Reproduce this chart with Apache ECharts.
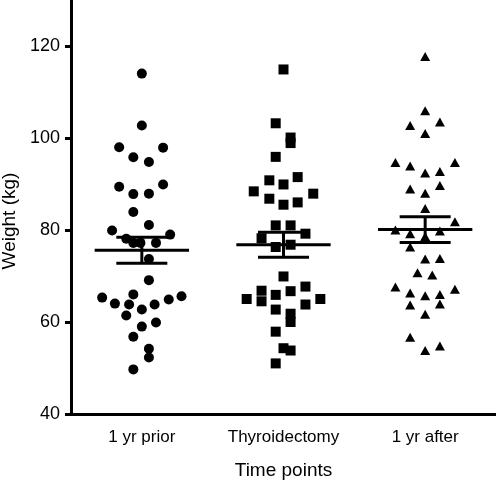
<!DOCTYPE html>
<html>
<head>
<meta charset="utf-8">
<script src="https://cdn.jsdelivr.net/npm/echarts@6/dist/echarts.min.js"></script>
<style>
html,body{margin:0;padding:0;background:#fff;}
#chart{width:496px;height:481px;}
</style>
</head>
<body>
<div id="chart"></div>
<script>
// Categories and tick labels
const categories = ['1 yr prior', 'Thyroidectomy', '1 yr after'];
const yTicks = [40, 60, 80, 100, 120];

// Series values (kg)
const priorValues = [114.0, 102.7, 98.0, 97.9, 95.8, 94.8, 89.4, 89.9, 87.8, 87.9, 83.9, 81.1, 79.9, 79.0, 78.1, 77.2, 77.2, 77.2, 73.7, 69.1, 65.3, 66.0, 65.6, 64.9, 64.0, 63.8, 63.8, 62.7, 61.4, 59.9, 59.0, 56.8, 54.2, 52.3, 49.7];
const priorJitter = [0, 0, -0.16, 0.15, -0.06, 0.05, -0.16, 0.15, -0.06, 0.05, -0.06, 0.05, -0.21, 0.20, -0.11, -0.06, -0.01, 0.10, 0.05, 0.05, -0.28, -0.06, 0.28, 0.19, -0.19, -0.09, 0.09, 0, -0.11, 0.10, 0, -0.06, 0.05, 0.05, -0.06];

const thyroValues = [114.9, 103.2, 100.1, 98.9, 95.9, 90.8, 91.5, 89.9, 88.4, 87.9, 86.8, 85.5, 86.0, 81.0, 81.0, 79.2, 78.2, 76.3, 76.8, 69.9, 65.0, 66.8, 64.5, 65.9, 66.7, 67.7, 65.0, 63.8, 62.7, 61.8, 60.0, 57.9, 54.3, 53.8, 51.0];
const thyroJitter = [0, -0.055, 0.05, 0.05, -0.055, -0.10, 0.10, 0, -0.21, 0.21, -0.10, 0, 0.10, -0.055, 0.05, 0.155, -0.155, -0.055, 0.05, 0, -0.26, -0.155, -0.155, -0.055, 0.05, 0.155, 0.26, 0.155, -0.055, 0.05, 0.05, -0.055, 0, 0.05, -0.055];

const afterValues = [117.7, 105.9, 102.7, 103.5, 101.0, 94.7, 93.9, 94.7, 92.4, 92.7, 88.9, 89.7, 88.0, 84.7, 81.8, 80.0, 79.2, 78.6, 79.8, 76.3, 73.7, 73.8, 70.7, 70.2, 67.6, 66.3, 65.7, 66.0, 67.1, 63.7, 63.9, 61.7, 56.7, 53.8, 54.8];
const afterJitter = [0, 0, -0.106, 0.104, 0, -0.21, -0.106, 0.21, 0, 0.104, -0.106, 0.104, 0, 0, 0.21, -0.21, -0.106, 0, 0.104, -0.106, 0, 0.104, -0.054, 0.05, -0.21, -0.106, 0, 0.104, 0.21, -0.106, 0.104, 0, -0.106, 0, 0.104];

// Mean and SEM per group
const means = [75.6, 76.8, 80.1];
const sems = [2.85, 2.7, 2.8];

const font = 'Liberation Sans, Arial, Helvetica, sans-serif';

function pts(values, jitter, idx) {
  return values.map((v, i) => [idx + 1 + jitter[i], v]);
}

const chart = echarts.init(document.getElementById('chart'), null, {renderer: 'canvas'});
chart.setOption({
  animation: false,
  backgroundColor: '#fff',
  grid: {left: 71, right: 0, top: 0, bottom: 67, containLabel: false, outerBoundsMode: 'none'},
  xAxis: [
    {
      type: 'category',
      data: categories,
      boundaryGap: true,
      axisLine: {lineStyle: {color: '#000', width: 3}},
      axisTick: {alignWithLabel: true, length: 6, lineStyle: {color: '#000', width: 2.5}},
      axisLabel: {interval: 0, color: '#000', fontFamily: font, fontSize: 17, margin: 15, hideOverlap: false},
      splitLine: {show: false},
      name: 'Time points',
      nameLocation: 'middle',
      nameGap: 47,
      nameTextStyle: {color: '#000', fontFamily: font, fontSize: 19}
    },
    {type: 'value', min: 0.5, max: 3.5, show: false}
  ],
  yAxis: {
    type: 'value',
    min: 40,
    max: 130,
    axisLine: {show: true, lineStyle: {color: '#000', width: 3}},
    axisTick: {show: true, customValues: yTicks, length: 6, lineStyle: {color: '#000', width: 3}},
    axisLabel: {customValues: yTicks, color: '#000', fontFamily: font, fontSize: 18, margin: 11},
    splitLine: {show: false},
    name: 'Weight (kg)',
    nameLocation: 'middle',
    nameGap: 50,
    nameTextStyle: {color: '#000', fontFamily: font, fontSize: 19, padding: [0, 28, 0, 0]}
  },
  series: [
    {type: 'scatter', xAxisIndex: 1, symbol: 'circle', symbolSize: 10, itemStyle: {color: '#000', opacity: 1}, data: pts(priorValues, priorJitter, 0), z: 3},
    {type: 'scatter', xAxisIndex: 1, symbol: 'rect', symbolSize: 10, itemStyle: {color: '#000', opacity: 1}, data: pts(thyroValues, thyroJitter, 1), z: 3},
    {type: 'scatter', xAxisIndex: 1, symbol: 'triangle', symbolSize: [10, 9], itemStyle: {color: '#000', opacity: 1}, data: pts(afterValues, afterJitter, 2), z: 3},
    {
      type: 'custom',
      xAxisIndex: 1,
      yAxisIndex: 0,
      z: 4,
      encode: {x: 0, y: 1},
      data: means.map((m, i) => [i + 1, m, sems[i]]),
      renderItem: function (params, api) {
        const x = api.value(0), m = api.value(1), s = api.value(2);
        const st = {stroke: '#000', lineWidth: 3};
        function seg(a, b) {
          const p = api.coord(a), q = api.coord(b);
          return {type: 'line', shape: {x1: p[0], y1: p[1], x2: q[0], y2: q[1]}, style: st};
        }
        return {
          type: 'group',
          children: [
            seg([x - 0.333, m], [x + 0.333, m]),
            seg([x, m - s], [x, m + s]),
            seg([x - 0.18, m + s], [x + 0.18, m + s]),
            seg([x - 0.18, m - s], [x + 0.18, m - s])
          ]
        };
      }
    }
  ]
});
</script>
</body>
</html>
